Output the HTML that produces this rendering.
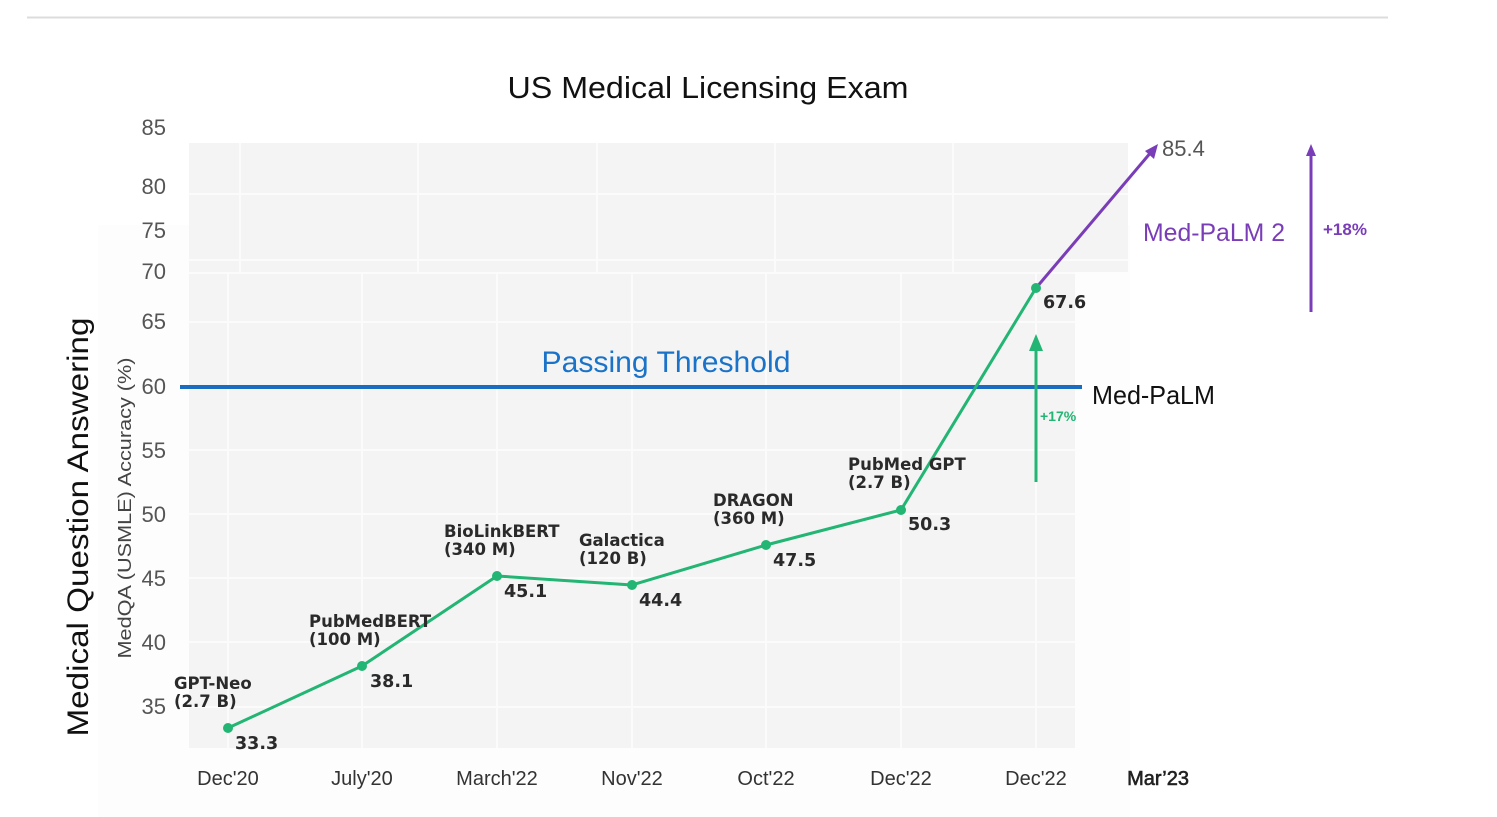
<!DOCTYPE html>
<html><head><meta charset="utf-8"><style>
html,body{margin:0;padding:0;background:#fff;}
svg{display:block;}
</style></head><body>
<svg width="1497" height="817" viewBox="0 0 1497 817" xmlns="http://www.w3.org/2000/svg">
<rect width="1497" height="817" fill="#fff"/>
<line x1="27" y1="17.5" x2="1388" y2="17.5" stroke="#dcdcdc" stroke-width="2"/>
<rect x="98" y="225" width="1032" height="592" fill="#fdfdfd"/>
<!-- upper plot region -->
<rect x="189" y="143" width="939" height="129" fill="#f4f4f4"/>
<g stroke="#fbfbfb" stroke-width="2">
<line x1="189" y1="194" x2="1128" y2="194"/>
<line x1="189" y1="260" x2="1128" y2="260"/>
<line x1="240" y1="143" x2="240" y2="272"/>
<line x1="418" y1="143" x2="418" y2="272"/>
<line x1="597" y1="143" x2="597" y2="272"/>
<line x1="775" y1="143" x2="775" y2="272"/>
<line x1="953" y1="143" x2="953" y2="272"/>
</g>
<!-- lower plot region -->
<rect x="189" y="272" width="886" height="476" fill="#f4f4f4"/>
<g stroke="#fbfbfb" stroke-width="2">
<line x1="189" y1="273" x2="1075" y2="273"/>
<line x1="189" y1="322" x2="1075" y2="322"/>
<line x1="189" y1="386" x2="1075" y2="386"/>
<line x1="189" y1="450" x2="1075" y2="450"/>
<line x1="189" y1="514" x2="1075" y2="514"/>
<line x1="189" y1="578" x2="1075" y2="578"/>
<line x1="189" y1="642" x2="1075" y2="642"/>
<line x1="189" y1="707" x2="1075" y2="707"/>
<line x1="228" y1="274" x2="228" y2="748"/>
<line x1="362" y1="274" x2="362" y2="748"/>
<line x1="497" y1="274" x2="497" y2="748"/>
<line x1="632" y1="274" x2="632" y2="748"/>
<line x1="766" y1="274" x2="766" y2="748"/>
<line x1="901" y1="274" x2="901" y2="748"/>
<line x1="1036" y1="274" x2="1036" y2="748"/>
</g>
<!-- title -->
<text x="708" y="98" font-family="Liberation Sans, sans-serif" font-size="31" fill="#111" text-anchor="middle" textLength="401" lengthAdjust="spacingAndGlyphs">US Medical Licensing Exam</text>
<!-- y axis labels -->
<text transform="translate(88,527) rotate(-90)" font-family="Liberation Sans, sans-serif" font-size="30" fill="#111" text-anchor="middle" textLength="419" lengthAdjust="spacingAndGlyphs">Medical Question Answering</text>
<text transform="translate(131,508) rotate(-90)" font-family="Liberation Sans, sans-serif" font-size="18" fill="#444" text-anchor="middle" textLength="301" lengthAdjust="spacingAndGlyphs">MedQA (USMLE) Accuracy (%)</text>
<!-- y ticks -->
<g font-family="Liberation Sans, sans-serif" font-size="22" fill="#555" text-anchor="end">
<text x="166" y="135">85</text>
<text x="166" y="194">80</text>
<text x="166" y="238">75</text>
<text x="166" y="279">70</text>
<text x="166" y="329">65</text>
<text x="166" y="394">60</text>
<text x="166" y="458">55</text>
<text x="166" y="522">50</text>
<text x="166" y="586">45</text>
<text x="166" y="650">40</text>
<text x="166" y="714">35</text>
</g>
<!-- x ticks -->
<g font-family="Liberation Sans, sans-serif" font-size="20" fill="#333" text-anchor="middle">
<text x="228" y="785">Dec'20</text>
<text x="362" y="785">July'20</text>
<text x="497" y="785">March'22</text>
<text x="632" y="785">Nov'22</text>
<text x="766" y="785">Oct'22</text>
<text x="901" y="785">Dec'22</text>
<text x="1036" y="785">Dec'22</text>
<text x="1158" y="785" fill="#222" stroke="#222" stroke-width="0.6">Mar’23</text>
</g>
<!-- passing threshold -->
<line x1="180" y1="387" x2="1082" y2="387" stroke="#1a6cc0" stroke-width="4"/>
<text x="666" y="372" font-family="Liberation Sans, sans-serif" font-size="30" fill="#1a73c8" text-anchor="middle" textLength="249" lengthAdjust="spacingAndGlyphs">Passing Threshold</text>
<text x="1092" y="404" font-family="Liberation Sans, sans-serif" font-size="26" fill="#111" textLength="123" lengthAdjust="spacingAndGlyphs">Med-PaLM</text>
<!-- green arrow -->
<line x1="1036" y1="482" x2="1036" y2="345" stroke="#22b573" stroke-width="3"/>
<polygon points="1036,334 1029,351 1043,351" fill="#22b573"/>
<text x="1040" y="421" font-family="Liberation Sans, sans-serif" font-size="14" font-weight="bold" fill="#22b573">+17%</text>
<!-- purple -->
<line x1="1036" y1="288" x2="1152" y2="151" stroke="#7a3db8" stroke-width="3"/>
<polygon points="1158,144 1145,151 1154,159" fill="#7a3db8"/>
<line x1="1311" y1="312" x2="1311" y2="152" stroke="#7a3db8" stroke-width="3"/>
<polygon points="1311,144 1306,156 1316,156" fill="#7a3db8"/>
<text x="1162" y="156" font-family="Liberation Sans, sans-serif" font-size="22" fill="#555">85.4</text>
<text x="1143" y="241" font-family="Liberation Sans, sans-serif" font-size="25" fill="#7a3db8" textLength="142" lengthAdjust="spacingAndGlyphs">Med-PaLM 2</text>
<text x="1323" y="235" font-family="Liberation Sans, sans-serif" font-size="17" font-weight="bold" fill="#7a3db8">+18%</text>
<!-- green series -->
<polyline points="228,728 362,666 497,576 632,585 766,545 901,510 1036,288" fill="none" stroke="#22b573" stroke-width="3" stroke-linejoin="round"/>
<g fill="#22b573">
<circle cx="228" cy="728" r="5"/>
<circle cx="362" cy="666" r="5"/>
<circle cx="497" cy="576" r="5"/>
<circle cx="632" cy="585" r="5"/>
<circle cx="766" cy="545" r="5"/>
<circle cx="901" cy="510" r="5"/>
<circle cx="1036" cy="288" r="5"/>
</g>
<!-- data labels -->
<g font-family="DejaVu Sans, sans-serif" font-weight="bold" fill="#2a2a2a">
<g font-size="16.5">
<text x="174" y="689">GPT-Neo</text><text x="174" y="707">(2.7 B)</text>
<text x="309" y="627">PubMedBERT</text><text x="309" y="645">(100 M)</text>
<text x="444" y="537">BioLinkBERT</text><text x="444" y="555">(340 M)</text>
<text x="579" y="546">Galactica</text><text x="579" y="564">(120 B)</text>
<text x="713" y="506">DRAGON</text><text x="713" y="524">(360 M)</text>
<text x="848" y="470">PubMed GPT</text><text x="848" y="488">(2.7 B)</text>
</g>
<g font-size="17.5">
<text x="235" y="749">33.3</text>
<text x="370" y="687">38.1</text>
<text x="504" y="597">45.1</text>
<text x="639" y="606">44.4</text>
<text x="773" y="566">47.5</text>
<text x="908" y="530">50.3</text>
<text x="1043" y="308">67.6</text>
</g>
</g>
</svg>
</body></html>
